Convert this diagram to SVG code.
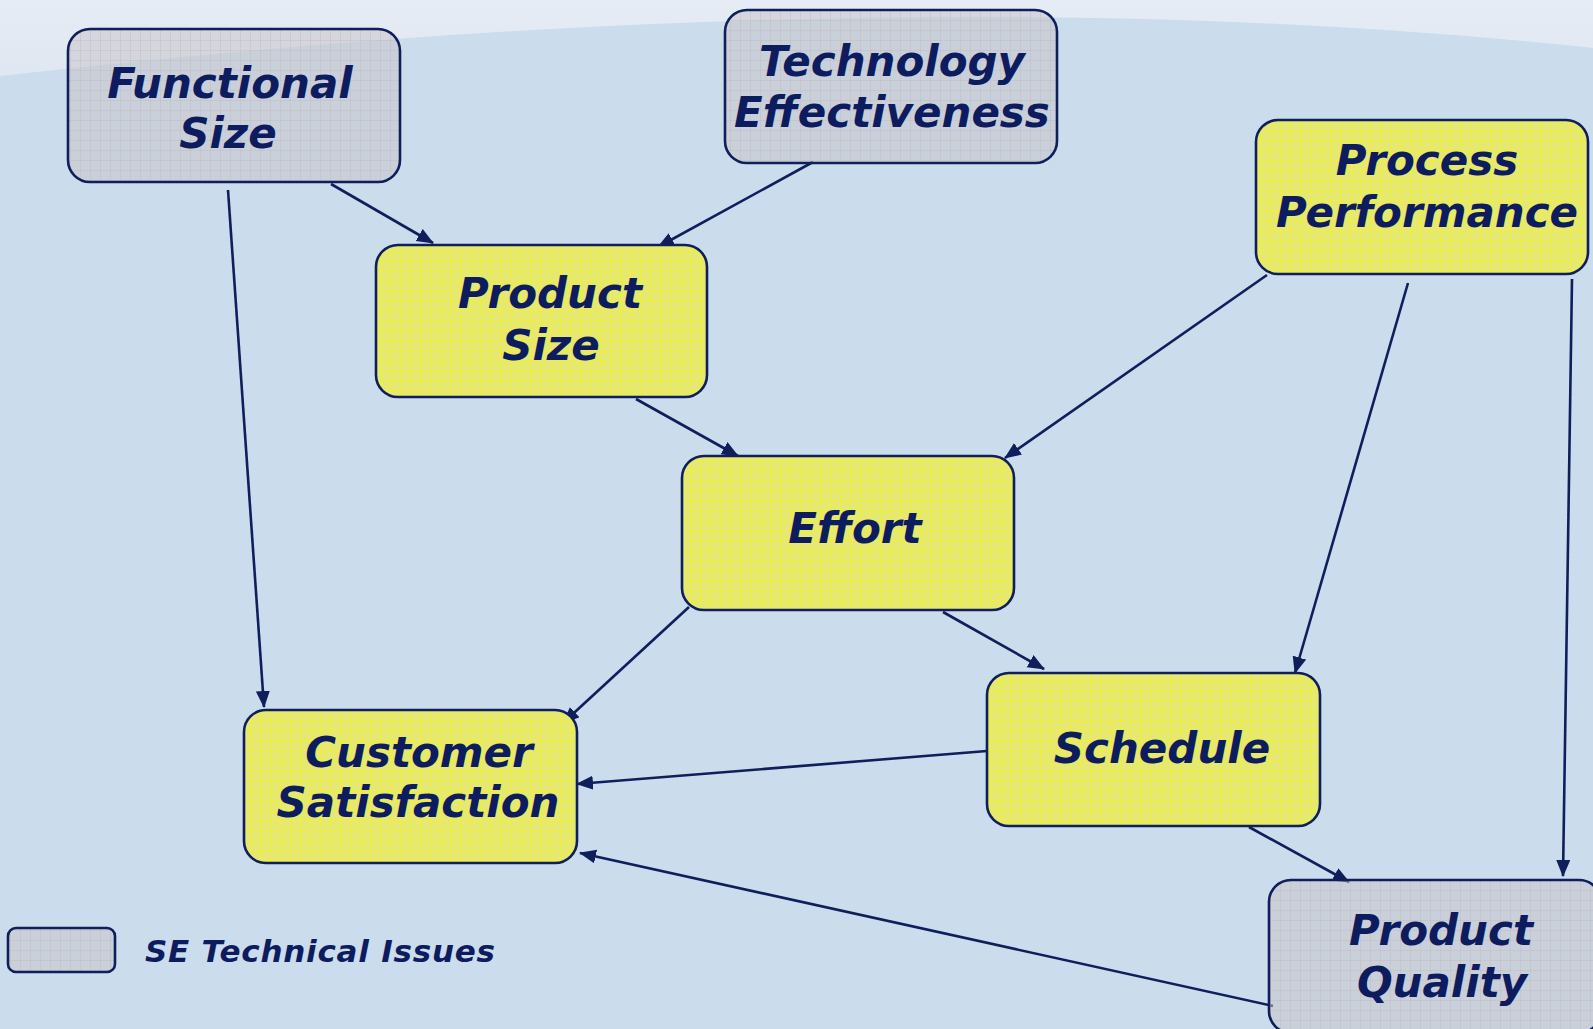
<svg xmlns="http://www.w3.org/2000/svg" width="1593" height="1029" viewBox="0 0 1593 1029">
<style>
.box{stroke:#0f1f5c;stroke-width:2.6}
.y{fill:url(#gridY)}
.g{fill:url(#gridG)}
.t{font-family:"DejaVu Sans","Verdana",sans-serif;font-weight:bold;font-style:italic;font-size:42px;fill:#0d1c5f;text-anchor:middle}
.leg{font-family:"DejaVu Sans","Verdana",sans-serif;font-weight:bold;font-style:italic;font-size:31px;fill:#0d1c5f}
.c{stroke:#0f1f5c;stroke-width:2.6;fill:none;marker-end:url(#ah)}
</style>
<defs>
<pattern id="gridY" width="10" height="10" patternUnits="userSpaceOnUse">
<rect width="10" height="10" fill="#e5e871"/>
<rect x="0" y="0" width="10" height="1" fill="#efef3c"/>
<rect x="0" y="0" width="1" height="10" fill="#efef3c"/>
</pattern>
<pattern id="gridG" width="10" height="10" patternUnits="userSpaceOnUse">
<rect width="10" height="10" fill="#c7c4c8" fill-opacity="0.5"/>
<rect x="0" y="0" width="10" height="1" fill="#c4b8bc" fill-opacity="0.45"/>
<rect x="0" y="0" width="1" height="10" fill="#c4b8bc" fill-opacity="0.45"/>
</pattern>
<linearGradient id="topg" x1="0" y1="0" x2="0" y2="1">
<stop offset="0" stop-color="#e6ecf5"/>
<stop offset="1" stop-color="#dfe7f2"/>
</linearGradient>
<marker id="ah" markerUnits="userSpaceOnUse" markerWidth="19" markerHeight="15" refX="16" refY="7" orient="auto">
<path d="M0,0 L17,7 L0,14 Z" fill="#0f1f5c"/>
</marker>
</defs>
<rect width="1593" height="1029" fill="#cbdcec"/>
<path d="M0,0 H1593 V48 Q900,-26 0,76 Z" fill="url(#topg)"/>

<g id="connectors">
<line class="c" x1="331" y1="184" x2="433" y2="243"/>
<line class="c" x1="813" y1="162" x2="658" y2="247"/>
<line class="c" x1="228" y1="190" x2="264" y2="707"/>
<line class="c" x1="636" y1="399" x2="738" y2="456"/>
<line class="c" x1="1267" y1="275" x2="1005" y2="458"/>
<line class="c" x1="1408" y1="283" x2="1295" y2="673"/>
<line class="c" x1="1572" y1="279" x2="1563" y2="876"/>
<line class="c" x1="689" y1="607" x2="563" y2="723"/>
<line class="c" x1="943" y1="612" x2="1044" y2="669"/>
<line class="c" x1="987" y1="751" x2="577" y2="784"/>
<line class="c" x1="1249" y1="827" x2="1349" y2="882"/>
<line class="c" x1="1273" y1="1006" x2="580" y2="853"/>
</g>

<g id="functional-size">
<rect class="box g" x="68" y="29" width="332" height="153" rx="22"/>
<text class="t" x="230" y="98">Functional</text>
<text class="t" x="228" y="148">Size</text>
</g>
<g id="technology-effectiveness">
<rect class="box g" x="725" y="10" width="332" height="153" rx="22"/>
<text class="t" x="892" y="76">Technology</text>
<text class="t" x="892" y="127">Effectiveness</text>
</g>
<g id="process-performance">
<rect class="box y" x="1256" y="120" width="332" height="154" rx="22"/>
<text class="t" x="1427" y="175">Process</text>
<text class="t" x="1427" y="227">Performance</text>
</g>
<g id="product-size">
<rect class="box y" x="376" y="245" width="331" height="152" rx="22"/>
<text class="t" x="550" y="308">Product</text>
<text class="t" x="551" y="360">Size</text>
</g>
<g id="effort">
<rect class="box y" x="682" y="456" width="332" height="154" rx="22"/>
<text class="t" x="855" y="543">Effort</text>
</g>
<g id="customer-satisfaction">
<rect class="box y" x="244" y="710" width="333" height="153" rx="22"/>
<text class="t" x="419" y="767">Customer</text>
<text class="t" x="418" y="817">Satisfaction</text>
</g>
<g id="schedule">
<rect class="box y" x="987" y="673" width="333" height="153" rx="22"/>
<text class="t" x="1162" y="763">Schedule</text>
</g>
<g id="product-quality">
<rect class="box g" x="1269" y="880" width="332" height="153" rx="22"/>
<text class="t" x="1441" y="945">Product</text>
<text class="t" x="1442" y="997">Quality</text>
</g>
<g id="legend">
<rect class="box g" x="8" y="928" width="107" height="44" rx="8"/>
<text class="leg" x="145" y="962" textLength="350" lengthAdjust="spacing">SE Technical Issues</text>
</g>
</svg>
